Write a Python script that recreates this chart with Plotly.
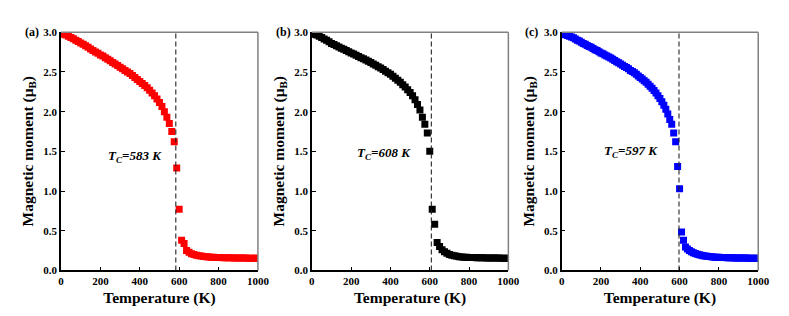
import numpy as np
import plotly.graph_objects as go

# ---------------- data ----------------
T_ab = list(np.linspace(0, 1000, 81))   # 12.5 K grid (panels a, b)
T_c = list(np.linspace(0, 1000, 101))   # 10 K grid (panel c)

M_a = [2.98, 2.975, 2.965, 2.95, 2.935, 2.92, 2.90, 2.885, 2.865, 2.85,
       2.83, 2.81, 2.79, 2.77, 2.75, 2.735, 2.715, 2.70, 2.68, 2.66,
       2.64, 2.62, 2.60, 2.58, 2.56, 2.54, 2.52, 2.50, 2.48, 2.455,
       2.43, 2.405, 2.38, 2.355, 2.33, 2.30, 2.27, 2.235, 2.20, 2.16,
       2.115, 2.065, 2.00, 1.93, 1.85, 1.75, 1.62, 1.29, 0.77, 0.38,
       0.34, 0.25, 0.23, 0.21, 0.20, 0.19, 0.185, 0.18, 0.175, 0.172,
       0.17, 0.167, 0.165, 0.163, 0.162, 0.161, 0.16, 0.159, 0.158, 0.158,
       0.157, 0.157, 0.156, 0.156, 0.155, 0.155, 0.154, 0.154, 0.154, 0.153,
       0.153]

M_b = [2.98, 2.975, 2.965, 2.95, 2.935, 2.915, 2.90, 2.88, 2.86, 2.845,
       2.83, 2.815, 2.80, 2.785, 2.77, 2.755, 2.74, 2.725, 2.71, 2.695,
       2.68, 2.665, 2.65, 2.635, 2.62, 2.60, 2.585, 2.565, 2.55, 2.53,
       2.51, 2.49, 2.47, 2.445, 2.42, 2.395, 2.37, 2.34, 2.31, 2.275,
       2.24, 2.20, 2.15, 2.09, 2.02, 1.93, 1.84, 1.73, 1.50, 0.77,
       0.58, 0.35, 0.30, 0.26, 0.235, 0.215, 0.20, 0.19, 0.183, 0.178,
       0.173, 0.17, 0.167, 0.165, 0.163, 0.162, 0.161, 0.16, 0.159, 0.158,
       0.158, 0.157, 0.157, 0.156, 0.156, 0.155, 0.155, 0.154, 0.154, 0.153,
       0.153]

M_c = [2.98, 2.975, 2.97, 2.96, 2.95, 2.94, 2.93, 2.915, 2.90, 2.89,
       2.875, 2.86, 2.85, 2.835, 2.82, 2.81, 2.795, 2.78, 2.77, 2.755,
       2.74, 2.73, 2.715, 2.70, 2.69, 2.675, 2.66, 2.645, 2.63, 2.615,
       2.60, 2.585, 2.57, 2.555, 2.54, 2.52, 2.505, 2.49, 2.47, 2.45,
       2.43, 2.41, 2.39, 2.37, 2.345, 2.32, 2.295, 2.265, 2.235, 2.20,
       2.165, 2.125, 2.08, 2.03, 1.97, 1.90, 1.84, 1.73, 1.62, 1.31,
       1.03, 0.485, 0.38, 0.295, 0.27, 0.25, 0.235, 0.222, 0.212, 0.203,
       0.196, 0.19, 0.185, 0.18, 0.177, 0.174, 0.171, 0.169, 0.167, 0.165,
       0.164, 0.163, 0.162, 0.161, 0.16, 0.159, 0.158, 0.158, 0.157, 0.157,
       0.156, 0.156, 0.155, 0.155, 0.155, 0.154, 0.154, 0.154, 0.153, 0.153,
       0.153]

Tc_values = [583, 608, 597]
panel_labels = ["(a)", "(b)", "(c)"]
colors = ["#FF0000", "#000000", "#0000FF"]
tc_text_pos = [(378, 1.43), (365, 1.47), (355, 1.50)]

x_ticks = [0, 200, 400, 600, 800, 1000]
y_ticks = [0.0, 0.5, 1.0, 1.5, 2.0, 2.5, 3.0]
y_tick_text = ["0.0", "0.5", "1.0", "1.5", "2.0", "2.5", "3.0"]

series = [(T_ab, M_a), (T_ab, M_b), (T_c, M_c)]
for t, m in series:
    if len(t) != len(m):
        raise ValueError(f"length mismatch {len(t)} vs {len(m)}")

# ---------------- layout geometry ----------------
W, H = 789, 316
FONT = "Liberation Serif"
x_px = [(51, 251.7), (306.7, 507), (561.3, 761.7)]
y_top_px, y_bot_px = 19, 266.5
ydom = [1 - y_bot_px / H, 1 - y_top_px / H]

fig = go.Figure()
layout = dict(
    width=W, height=H, margin=dict(l=0, r=0, t=0, b=0),
    paper_bgcolor="white", plot_bgcolor="white", showlegend=False,
    font=dict(family=FONT, size=12, color="black"),
)
annotations = []
shapes = []

for i in range(3):
    k = "" if i == 0 else str(i + 1)
    xa, ya = "x" + k, "y" + k
    t, m = series[i]
    fig.add_trace(go.Scatter(
        x=t, y=m, mode="markers", xaxis=xa, yaxis=ya,
        marker=dict(symbol="square", size=7, color=colors[i], line=dict(width=0)),
    ))
    x0, x1 = x_px[i]
    layout["xaxis" + k] = dict(
        domain=[x0 / W, x1 / W], anchor=ya, range=[0, 1000],
        showgrid=False, zeroline=False, showline=True, linecolor="black", linewidth=1.5,
        ticks="inside", ticklen=4, tickwidth=1.2, tickcolor="black",
        tickvals=x_ticks, ticktext=[f"<b>{v}</b>" for v in x_ticks],
        tickfont=dict(family=FONT, size=11, color="black"),
        title=dict(text="<b>Temperature (K)</b>", standoff=6,
                   font=dict(family=FONT, size=15.5, color="black")),
    )
    layout["yaxis" + k] = dict(
        domain=ydom, anchor=xa, range=[0, 3.0],
        showgrid=False, zeroline=False, showline=True, linecolor="black", linewidth=1.5,
        ticks="inside", ticklen=4, tickwidth=1.2, tickcolor="black",
        tickvals=y_ticks, ticktext=[f"<b>{v}</b>" for v in y_tick_text],
        tickfont=dict(family=FONT, size=11, color="black"),
        title=dict(text="<b>Magnetic moment (μ<sub>B</sub>)</b>", standoff=6,
                   font=dict(family=FONT, size=15.5, color="black")),
    )
    # grey top / right frame
    shapes.append(dict(type="line", xref=xa + " domain", yref=ya + " domain",
                       x0=0, x1=1, y0=1, y1=1, line=dict(color="#808080", width=1.5)))
    shapes.append(dict(type="line", xref=xa + " domain", yref=ya + " domain",
                       x0=1, x1=1, y0=0, y1=1, line=dict(color="#808080", width=1.5)))
    # Tc dashed line
    shapes.append(dict(type="line", xref=xa, yref=ya,
                       x0=Tc_values[i], x1=Tc_values[i], y0=0, y1=3.0,
                       line=dict(color="#222222", width=1.1, dash="5px,3px")))
    # Tc text
    tx, ty = tc_text_pos[i]
    annotations.append(dict(
        xref=xa, yref=ya, x=tx, y=ty, showarrow=False,
        text=f"<b><i>T<sub>C</sub>={Tc_values[i]} K</i></b>",
        font=dict(family=FONT, size=13, color="black"),
    ))
    # panel label
    annotations.append(dict(
        xref="paper", yref="paper", x=(x0 - 39) / W, y=1 - y_top_px / H,
        xanchor="left", yanchor="middle", showarrow=False,
        text=f"<b>{panel_labels[i]}</b>",
        font=dict(family=FONT, size=12, color="black"),
    ))

layout["annotations"] = annotations
layout["shapes"] = shapes
fig.update_layout(**layout)
fig.write_html("out.html")
